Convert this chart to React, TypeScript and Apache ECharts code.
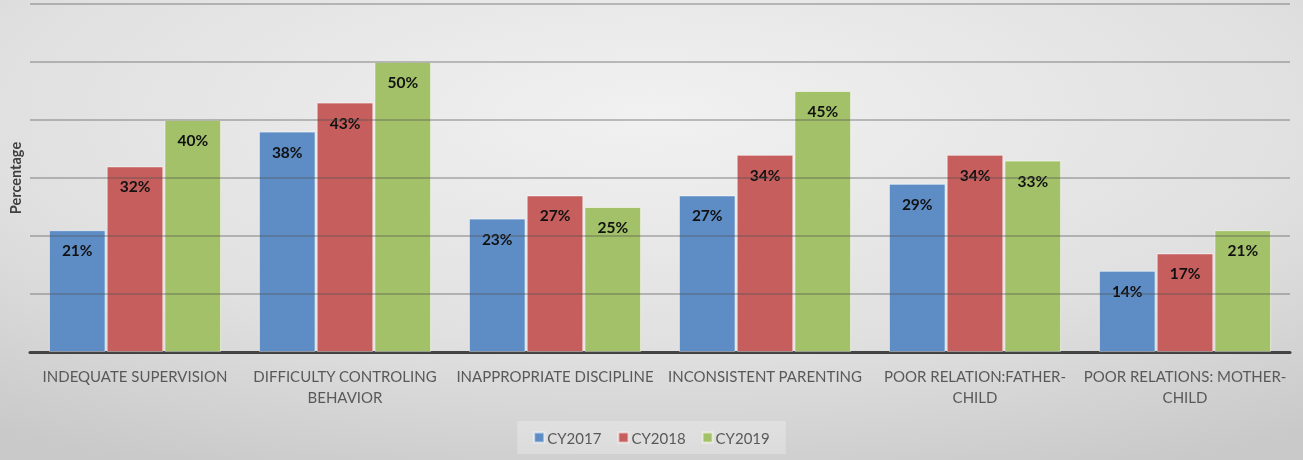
import React, { useEffect, useRef } from "react";
import * as echarts from "echarts";

const categories = [
  "INDEQUATE SUPERVISION",
  "DIFFICULTY CONTROLING\nBEHAVIOR",
  "INAPPROPRIATE DISCIPLINE",
  "INCONSISTENT PARENTING",
  "POOR RELATION:FATHER-\nCHILD",
  "POOR RELATIONS: MOTHER-\nCHILD",
];
const seriesNames = ["CY2017", "CY2018", "CY2019"];
const cy2017 = [21, 38, 23, 27, 29, 14];
const cy2018 = [32, 43, 27, 34, 34, 17];
const cy2019 = [40, 50, 25, 45, 33, 21];
const colors = ["#5E8DC6", "#C55E5C", "#A3C168"];

export default function App() {
  const ref = useRef<HTMLDivElement>(null);
  useEffect(() => {
    if (!ref.current) return;
    const chart = echarts.init(ref.current, undefined, { renderer: "svg" });
    const values = [cy2017, cy2018, cy2019];
    chart.setOption({
      animation: false,
      backgroundColor: new echarts.graphic.RadialGradient(0.5, 0.25, 0.85, [
        { offset: 0, color: "#f1f1f1" },
        { offset: 0.6, color: "#e0e0e0" },
        { offset: 1, color: "#c9c9c9" },
      ]),
      textStyle: { fontFamily: "Lato, 'Open Sans', sans-serif" },
      grid: { left: 28, right: 13, top: 4, bottom: 108, containLabel: false },
      legend: {
        bottom: 6,
        left: "center",
        data: seriesNames,
        icon: "rect",
        itemWidth: 10,
        itemHeight: 10,
        itemGap: 16,
        padding: [9, 16, 9, 16],
        backgroundColor: "rgba(255,255,255,0.25)",
        textStyle: { color: "#595959", fontSize: 15, padding: [0, 0, 0, -2] },
      },
      xAxis: {
        type: "category",
        data: categories,
        axisLine: { show: true, lineStyle: { color: "#404040", width: 3 } },
        axisTick: { show: false },
        axisLabel: {
          interval: 0,
          color: "#595959",
          fontSize: 15,
          lineHeight: 21,
          margin: 13,
        },
      },
      yAxis: {
        type: "value",
        min: 0,
        max: 60,
        interval: 10,
        z: 10,
        name: "Percentage",
        nameLocation: "middle",
        nameGap: 7,
        nameRotate: 90,
        nameTextStyle: { color: "#404040", fontSize: 14.5, fontWeight: "bold" },
        axisLine: { show: false },
        axisTick: { show: false },
        axisLabel: { show: false },
        splitLine: { lineStyle: { color: "rgba(80,80,80,0.45)", width: 1.5 } },
      },
      series: values.map((v, i) => ({
        name: seriesNames[i],
        type: "bar",
        data: v,
        barGap: "2%",
        barCategoryGap: "18%",
        itemStyle: { color: colors[i], borderColor: "rgba(255,255,255,0.55)", borderWidth: 1 },
        label: {
          show: true,
          position: "insideTop",
          distance: 12,
          formatter: "{c}%",
          color: "#111",
          fontSize: 15.5,
          fontWeight: "bold",
        },
      })),
    });
    return () => chart.dispose();
  }, []);
  return (
    <div
      ref={ref}
      style={{ position: "fixed", left: 0, top: 0, width: 1303, height: 460 }}
    />
  );
}
